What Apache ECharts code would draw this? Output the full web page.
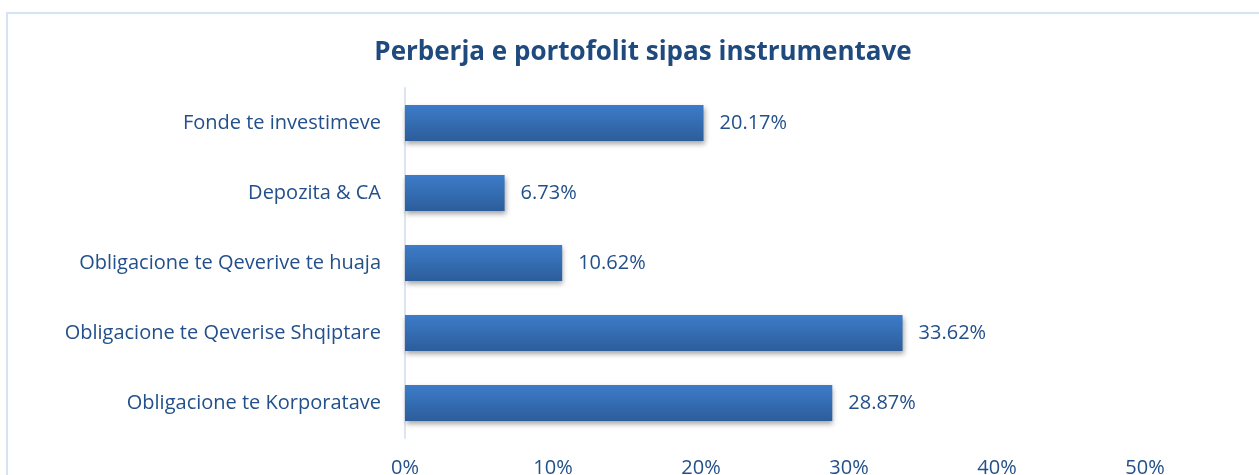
<!DOCTYPE html>
<html>
    <head>
        <meta charset="UTF-8">
        <title>Perberja e portofolit</title>
        <script src="https://cdn.jsdelivr.net/npm/echarts@6/dist/echarts.min.js"></script>
        <style>
            body,html{margin:0;padding:0;background:#fff;}
            #frame{position:absolute;left:6px;top:12px;width:1260px;height:470px;border-left:2px solid #d5e3f3;border-top:2px solid #d5e3f3;}
            #chart{position:absolute;left:0;top:0;width:1259px;height:475px;}
        </style>
    </head>
    <body>
        <div id="frame"></div>
        <div id="chart"></div>
        <script type="text/javascript">
          // data, bottom to top as drawn
          var categories = ['Obligacione te Korporatave','Obligacione te Qeverise Shqiptare','Obligacione te Qeverive te huaja','Depozita & CA','Fonde te investimeve'];
          var shares = [28.87, 33.62, 10.62, 6.73, 20.17];
          var tickLabels = ['0%','10%','20%','30%','40%','50%'];

          var textColor = '#23508a';
          var font = '"Open Sans", "Liberation Sans", sans-serif';

          var chart = echarts.init(document.getElementById('chart'));
          var option = {
              animation: false,
              title: {
                  text: 'Perberja e portofolit sipas instrumentave',
                  left: 638,
                  top: 35,
                  textAlign: 'center',
                  textStyle: {color: '#1f4a7e', fontSize: 26, fontWeight: 'bold', fontFamily: font}
              },
              grid: {left: 405, right: 114, top: 88, height: 350, containLabel: false, outerBoundsMode: 'none'},
              xAxis: {
                  type: 'value',
                  min: 0,
                  max: 50,
                  interval: 10,
                  axisLine: {show: false},
                  axisTick: {show: false},
                  splitLine: {show: false},
                  axisLabel: {
                      margin: 20,
                      color: textColor,
                      fontSize: 20,
                      fontFamily: font,
                      formatter: function (v) { return tickLabels[v / 10]; }
                  }
              },
              yAxis: {
                  type: 'category',
                  data: categories,
                  axisLine: {show: true, lineStyle: {color: '#dce6f2', width: 2}},
                  axisTick: {show: false},
                  axisLabel: {margin: 24, color: textColor, fontSize: 20, fontFamily: font}
              },
              series: [{
                  type: 'bar',
                  data: shares,
                  barWidth: 36,
                  itemStyle: {
                      color: new echarts.graphic.LinearGradient(0, 0, 0, 1, [
                          {offset: 0, color: '#3d7cc9'},
                          {offset: 1, color: '#2c5d9b'}
                      ]),
                      shadowColor: 'rgba(0,0,0,0.35)',
                      shadowBlur: 5,
                      shadowOffsetX: 1,
                      shadowOffsetY: 3
                  },
                  label: {
                      show: true,
                      position: 'right',
                      distance: 16,
                      color: textColor,
                      fontSize: 20,
                      fontFamily: font,
                      formatter: function (p) { return p.value.toFixed(2) + '%'; }
                  }
              }]
          };
          chart.setOption(option);
        </script>
    </body>
</html>
